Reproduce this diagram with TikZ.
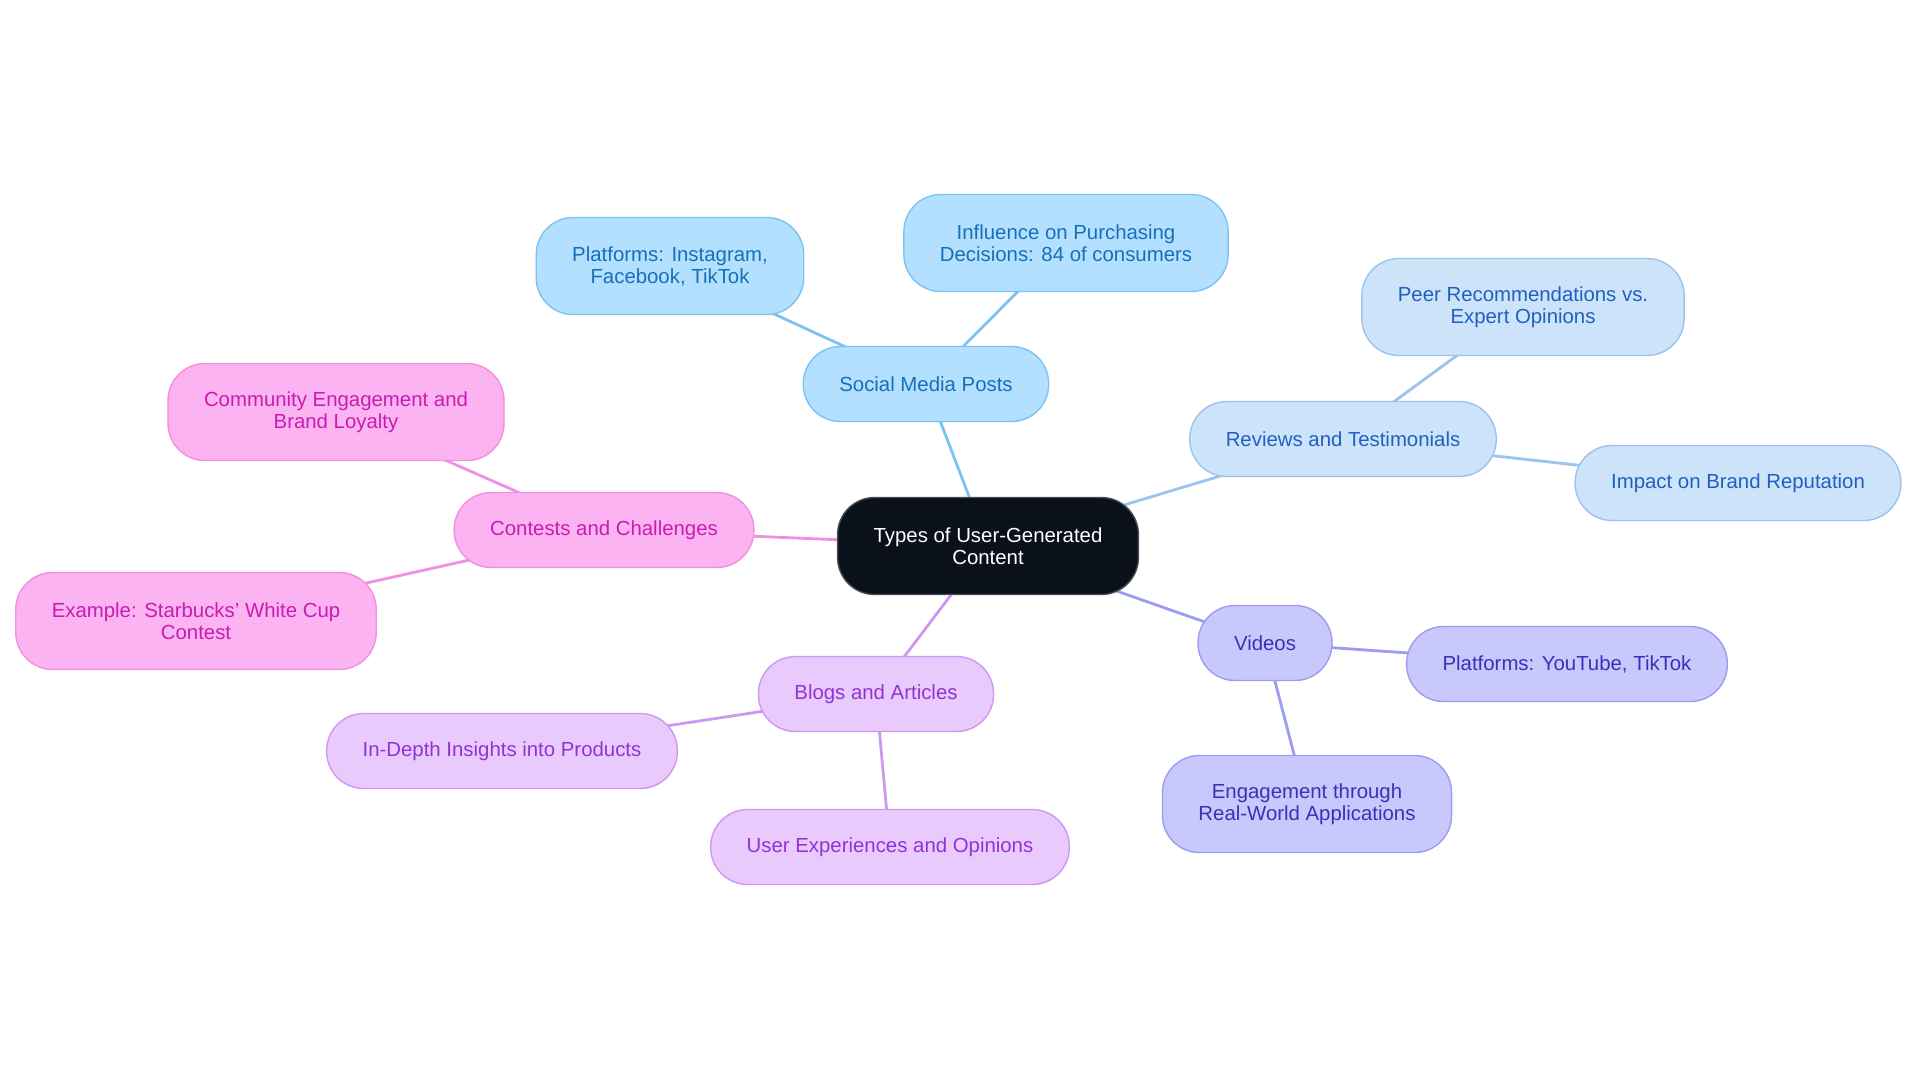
\documentclass[tikz,border=0pt]{standalone}
\usepackage{fontspec}
\setmainfont{Liberation Sans}
\usetikzlibrary{backgrounds}
\usepackage{xcolor}
\definecolor{rootfill}{HTML}{0B111B}
\definecolor{skyfill}{HTML}{B3E0FF}
\definecolor{skyline}{HTML}{7CC2F2}
\definecolor{skytext}{HTML}{1670B8}
\definecolor{bluefill}{HTML}{CDE3FA}
\definecolor{blueline}{HTML}{9CC2EE}
\definecolor{bluetext}{HTML}{2060C0}
\definecolor{perifill}{HTML}{C8C8FC}
\definecolor{periline}{HTML}{9C9CF2}
\definecolor{peritext}{HTML}{3434B8}
\definecolor{lavfill}{HTML}{E8CBFC}
\definecolor{lavline}{HTML}{CC98F0}
\definecolor{lavtext}{HTML}{9232D6}
\definecolor{pinkfill}{HTML}{FCB3F2}
\definecolor{pinkline}{HTML}{F090E0}
\definecolor{pinktext}{HTML}{C81CB2}

\begin{document}
\begin{tikzpicture}[
        x=0.02cm, y=-0.02cm,
        box/.style={rounded corners=0.74cm, minimum height=1.5cm,
          inner xsep=0.72cm, align=center, line width=0.8pt,
          font=\fontsize{11.6}{12.5}\selectfont},
        tall/.style={minimum height=1.94cm},
        rootbox/.style={box, fill=rootfill, draw=rootfill!75!white, text=white},
        social/.style={box, fill=skyfill, draw=skyline, text=skytext},
        review/.style={box, fill=bluefill, draw=blueline, text=bluetext},
        video/.style={box, fill=perifill, draw=periline, text=peritext},
        blog/.style={box, fill=lavfill, draw=lavline, text=lavtext},
        contest/.style={box, fill=pinkfill, draw=pinkline, text=pinktext},
        link/.style={line width=1.6pt},
      ]
      \useasboundingbox (0,0) rectangle (1920,1083);

      % === centre ===
      \node[rootbox, tall] (ugc) at (988,546) {Types of User-Generated\\Content};

      % === social media ===
      \node[social] (sm) at (926,384) {Social Media Posts};
      \node[social, tall] (smplat) at (670,266) {Platforms: Instagram,\\Facebook, TikTok};
      \node[social, tall] (sminfl) at (1066,243) {Influence on Purchasing\\Decisions: 84 of consumers};

      % === reviews ===
      \node[review] (rev) at (1343,439) {Reviews and Testimonials};
      \node[review, tall] (revpeer) at (1523,307) {Peer Recommendations vs.\\Expert Opinions};
      \node[review] (revimp) at (1738,483) {Impact on Brand Reputation};

      % === videos ===
      \node[video] (vid) at (1265,643) {Videos};
      \node[video] (vidplat) at (1567,664) {Platforms: YouTube, TikTok};
      \node[video, tall] (videng) at (1307,804) {Engagement through\\Real-World Applications};

      % === blogs ===
      \node[blog] (blg) at (876,694) {Blogs and Articles};
      \node[blog] (blgins) at (502,751) {In-Depth Insights into Products};
      \node[blog] (blguser) at (890,847) {User Experiences and Opinions};

      % === contests ===
      \node[contest] (con) at (604,530) {Contests and Challenges};
      \node[contest, tall] (concomm) at (336,412) {Community Engagement and\\Brand Loyalty};
      \node[contest, tall] (conex) at (196,621) {Example: Starbucks' White Cup\\Contest};

      \begin{scope}[on background layer]
        \draw[link, skyline] (ugc.center) -- (sm.center);
        \draw[link, skyline] (sm.center) -- (smplat.center);
        \draw[link, skyline] (sm.center) -- (sminfl.center);
        \draw[link, blueline] (ugc.center) -- (rev.center);
        \draw[link, blueline] (rev.center) -- (revpeer.center);
        \draw[link, blueline] (rev.center) -- (revimp.center);
        \draw[link, periline] (ugc.center) -- (vid.center);
        \draw[link, periline] (vid.center) -- (vidplat.center);
        \draw[link, periline] (vid.center) -- (videng.center);
        \draw[link, lavline] (ugc.center) -- (blg.center);
        \draw[link, lavline] (blg.center) -- (blgins.center);
        \draw[link, lavline] (blg.center) -- (blguser.center);
        \draw[link, pinkline] (ugc.center) -- (con.center);
        \draw[link, pinkline] (con.center) -- (concomm.center);
        \draw[link, pinkline] (con.center) -- (conex.center);
      \end{scope}
\end{tikzpicture}
\end{document}
